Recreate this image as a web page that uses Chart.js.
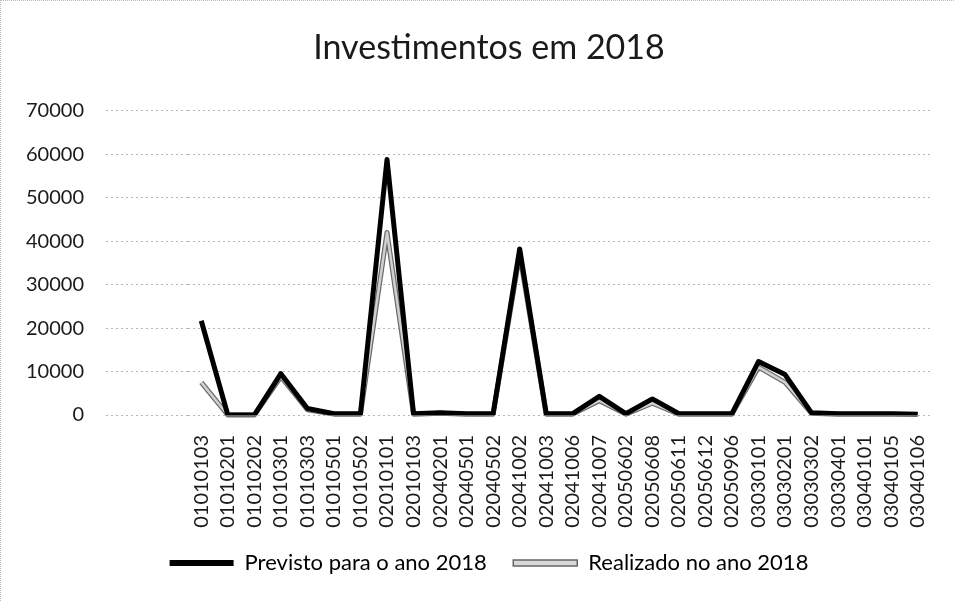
<!DOCTYPE html>
<html>
<head>
<meta charset="utf-8">
<script src="https://cdn.jsdelivr.net/npm/chart.js@4.4.0/dist/chart.umd.min.js"></script>
<style>
html, body { margin: 0; padding: 0; background: #fff; }
#wrap { width: 954px; height: 601px; position: relative; box-sizing: border-box;
        border-top: 1px dotted #bbb; border-left: 1px dotted #bbb; }
</style>
</head>
<body>
<div id="wrap"><canvas id="chart"></canvas></div>
<script>
const categorias = ['01010103', '01010201', '01010202', '01010301', '01010303', '01010501', '01010502',
  '02010101', '02010103', '02040201', '02040501', '02040502', '02041002', '02041003', '02041006',
  '02041007', '02050602', '02050608', '02050611', '02050612', '02050906', '03030101', '03030201',
  '03030302', '03030401', '03040101', '03040105', '03040106'];

const previsto = [21700, 0, 0, 9500, 1500, 300, 300,
  58800, 300, 500, 300, 300, 38200, 300, 300,
  4300, 300, 3700, 300, 300, 300, 12300, 9300,
  500, 300, 300, 300, 200];

const realizado = [7500, 0, 0, 8800, 1200, 200, 200,
  42000, 200, 400, 200, 200, 37000, 200, 200,
  3300, 200, 2700, 200, 200, 200, 11000, 7500,
  400, 200, 200, 200, 100];

const yTicks = [0, 10000, 20000, 30000, 40000, 50000, 60000, 70000];

const fonte = 'Lato, "Open Sans", sans-serif';

// contorno escuro por baixo da linha cinza (Realizado)
const contorno = {
  id: 'contorno',
  beforeDatasetDraw(chart, args) {
    if (args.index !== 1) return;
    const pts = args.meta.data;
    const ctx = chart.ctx;
    ctx.save();
    ctx.strokeStyle = '#6b6b6b';
    ctx.lineWidth = 5;
    ctx.lineJoin = 'round';
    ctx.beginPath();
    pts.forEach((p, i) => i ? ctx.lineTo(p.x, p.y) : ctx.moveTo(p.x, p.y));
    ctx.stroke();
    ctx.restore();
  }
};

const chart = document.getElementById('chart');

new Chart(chart, {
  type: 'line',
  data: {
    labels: categorias,
    datasets: [{
      label: 'Previsto para o ano 2018',
      data: previsto,
      borderColor: '#000',
      backgroundColor: '#000',
      borderWidth: 5,
      borderJoinStyle: 'round',
      pointRadius: 0,
      tension: 0
    }, {
      label: 'Realizado no ano 2018',
      data: realizado,
      borderColor: '#d0d0d0',
      backgroundColor: '#d0d0d0',
      borderWidth: 2.5,
      borderJoinStyle: 'round',
      pointRadius: 0,
      tension: 0
    }]
  },
  plugins: [contorno],
  options: {
    responsive: true,
    maintainAspectRatio: false,
    animation: false,
    layout: { padding: { left: 23, right: 0, top: 0, bottom: 17 } },
    plugins: {
      title: {
        display: true,
        text: 'Investimentos em 2018',
        color: '#1a1a1a',
        font: { family: fonte, size: 34, weight: 'normal' },
        padding: { top: 27, bottom: 42 }
      },
      legend: {
        position: 'bottom',
        labels: {
          color: '#1a1a1a',
          font: { family: fonte, size: 22 },
          boxWidth: 64,
          boxHeight: 6,
          padding: 10,
          generateLabels: (c) => [
            { text: c.data.datasets[0].label + '\u2003', fillStyle: '#000', strokeStyle: '#000', lineWidth: 0, datasetIndex: 0 },
            { text: c.data.datasets[1].label, fillStyle: '#d8d8d8', strokeStyle: '#666', lineWidth: 1.5, datasetIndex: 1 }
          ]
        }
      },
      tooltip: { enabled: false }
    },
    scales: {
      x: {
        offset: true,
        grid: { display: false },
        border: { display: false },
        ticks: {
          autoSkip: false,
          minRotation: 90,
          maxRotation: 90,
          padding: 12,
          color: '#1a1a1a',
          font: { family: fonte, size: 20 }
        },
        afterFit: (s) => { s.height = 127; }
      },
      y: {
        min: 0,
        max: 70000,
        afterBuildTicks: (s) => { s.ticks = yTicks.map(v => ({ value: v })); },
        grid: {
          color: '#b5b5b5',
          lineWidth: 1,
          tickLength: 82,
          tickColor: '#b5b5b5',
          tickBorderDash: [2, 3]
        },
        border: { display: false, dash: [2, 3] },
        ticks: {
          padding: 22,
          color: '#1a1a1a',
          font: { family: fonte, size: 20 },
          callback: (v) => String(v)
        },
        afterFit: (s) => { s.width = 164; }
      },
      // margem direita da área do gráfico
      yDir: {
        position: 'right',
        grid: { display: false },
        border: { display: false },
        ticks: { display: false },
        afterFit: (s) => { s.width = 16; }
      }
    }
  }
});
</script>
</body>
</html>
